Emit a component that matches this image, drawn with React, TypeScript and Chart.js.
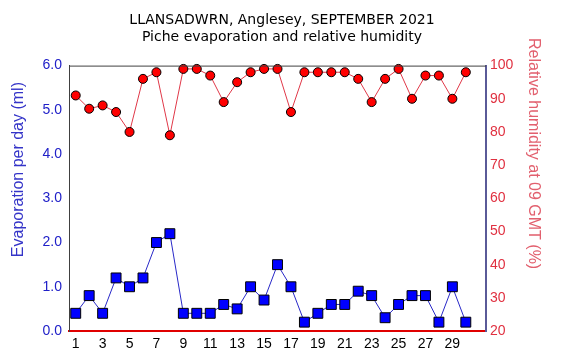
import React, { useEffect, useRef } from "react";
import { Chart, registerables } from "chart.js";

Chart.register(...registerables);

const titleLines = ["LLANSADWRN, Anglesey, SEPTEMBER 2021", "Piche evaporation and relative humidity"];
const leftAxisTitle = "Evaporation per day (ml)";
const rightAxisTitle = "Relative humidity at 09 GMT (%)";

const days = [1, 2, 3, 4, 5, 6, 7, 8, 9, 10, 11, 12, 13, 14, 15, 16, 17, 18, 19, 20, 21, 22, 23, 24, 25, 26, 27, 28, 29, 30];
const evaporation = [0.4, 0.8, 0.4, 1.2, 1.0, 1.2, 2.0, 2.2, 0.4, 0.4, 0.4, 0.6, 0.5, 1.0, 0.7, 1.5, 1.0, 0.2, 0.4, 0.6, 0.6, 0.9, 0.8, 0.3, 0.6, 0.8, 0.8, 0.2, 1.0, 0.2];
const humidity = [91, 87, 88, 86, 80, 96, 98, 79, 99, 99, 97, 89, 95, 98, 99, 99, 86, 98, 98, 98, 98, 96, 89, 96, 99, 90, 97, 97, 90, 98];
const xTickLabels = [1, 3, 5, 7, 9, 11, 13, 15, 17, 19, 21, 23, 25, 27, 29];

const frameAndTitles = {
  id: "frameAndTitles",
  afterDraw(chart: any) {
    const { ctx, chartArea } = chart;
    ctx.save();
    ctx.strokeStyle = "#404040";
    ctx.lineWidth = 1;
    ctx.beginPath();
    ctx.moveTo(chartArea.left, chartArea.top + 0.5);
    ctx.lineTo(chartArea.right, chartArea.top + 0.5);
    ctx.stroke();
    ctx.font = "16px 'Liberation Sans', Arial, sans-serif";
    ctx.textAlign = "center";
    ctx.textBaseline = "middle";
    ctx.save();
    ctx.translate(chartArea.left - 50, chartArea.top + 104);
    ctx.rotate(-Math.PI / 2);
    ctx.fillStyle = "#3434c8";
    ctx.fillText(leftAxisTitle, 0, 0);
    ctx.restore();
    ctx.save();
    ctx.translate(chartArea.right + 47, chartArea.top + 88);
    ctx.rotate(Math.PI / 2);
    ctx.fillStyle = "#e2606e";
    ctx.fillText(rightAxisTitle, 0, 0);
    ctx.restore();
    ctx.restore();
  },
};

export default function App() {
  const ref = useRef<HTMLCanvasElement>(null);
  useEffect(() => {
    if (!ref.current) return;
    const tickFont = { family: "'Liberation Sans', Arial, sans-serif", size: 14 };
    const chart = new Chart(ref.current, {
      type: "line",
      data: {
        datasets: [
          {
            label: "Evaporation",
            data: days.map((d, i) => ({ x: d, y: evaporation[i] })),
            yAxisID: "y",
            borderColor: "#2828c8",
            borderWidth: 1,
            pointStyle: "rect",
            pointRadius: 7,
            pointHoverRadius: 7,
            pointBackgroundColor: "#0000ff",
            pointBorderColor: "#000000",
            pointBorderWidth: 1,
            tension: 0,
            clip: false as any,
          },
          {
            label: "Humidity",
            data: days.map((d, i) => ({ x: d, y: humidity[i] })),
            yAxisID: "y1",
            borderColor: "#e03848",
            borderWidth: 1,
            pointStyle: "circle",
            pointRadius: 4.5,
            pointHoverRadius: 4.5,
            pointBackgroundColor: "#ff0000",
            pointBorderColor: "#000000",
            pointBorderWidth: 1,
            tension: 0,
            clip: false as any,
          },
        ],
      },
      options: {
        animation: false,
        responsive: false,
        events: [],
        layout: { padding: 0 },
        plugins: {
          legend: { display: false },
          tooltip: { enabled: false },
          title: {
            display: true,
            text: titleLines,
            color: "#000000",
            font: { family: "'DejaVu Sans', Verdana, sans-serif", size: 14, weight: "normal" as any, lineHeight: 1.2 },
            padding: { top: 12, bottom: 20 },
          },
        },
        scales: {
          x: {
            type: "linear",
            min: 0.5,
            max: 31.5,
            grid: { display: false, drawTicks: false },
            border: { display: true, color: "#e00000", width: 2 },
            ticks: { color: "#000000", font: tickFont, padding: 5, maxRotation: 0, autoSkip: false },
            afterBuildTicks: (scale: any) => {
              scale.ticks = xTickLabels.map((v) => ({ value: v }));
            },
            afterFit: (scale: any) => {
              scale.height = 29;
            },
          },
          y: {
            type: "linear",
            position: "left",
            min: 0,
            max: 6,
            grid: { display: false, drawTicks: false },
            border: { display: true, color: "#404040", width: 1 },
            ticks: {
              stepSize: 1,
              color: "#2020c8",
              font: tickFont,
              padding: 7,
              callback: (v: any) => Number(v).toFixed(1),
            },
            afterFit: (scale: any) => {
              scale.width = 69;
            },
          },
          y1: {
            type: "linear",
            position: "right",
            min: 20,
            max: 100,
            grid: { display: false, drawTicks: false },
            border: { display: true, color: "#5a5a98", width: 2 },
            ticks: { stepSize: 10, color: "#e03040", font: tickFont, padding: 4 },
            afterFit: (scale: any) => {
              scale.width = 78;
            },
          },
        },
      },
      plugins: [frameAndTitles],
    });
    return () => chart.destroy();
  }, []);
  return (
    <div style={{ position: "fixed", left: 0, top: 0, width: 564, height: 360, background: "#ffffff" }}>
      <canvas ref={ref} width={564} height={360} />
    </div>
  );
}
